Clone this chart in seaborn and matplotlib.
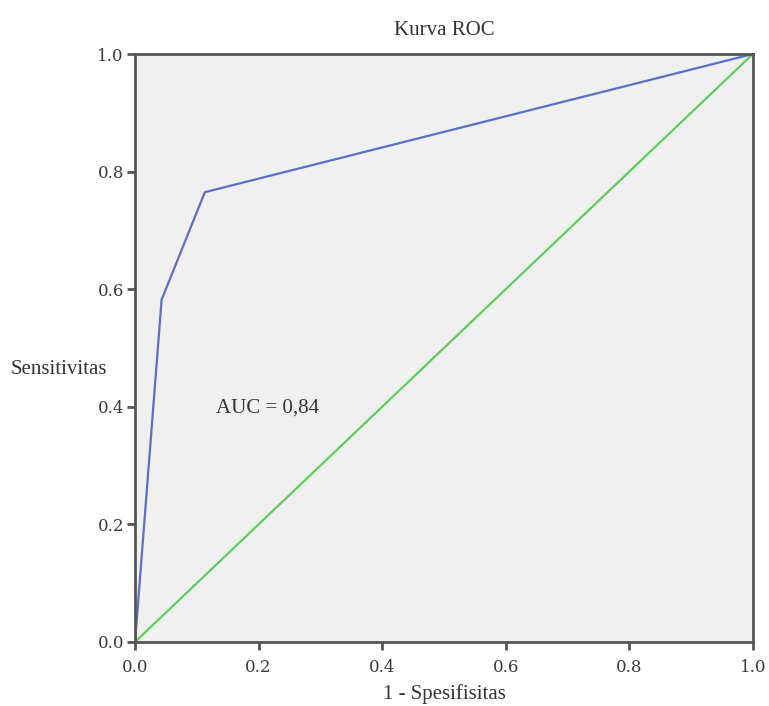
import numpy as np
import pandas as pd
import matplotlib
matplotlib.use("Agg")
import matplotlib.pyplot as plt
import seaborn as sns

# ROC curve points (1 - specificity, sensitivity)
fpr = [0.0, 0.043, 0.113, 1.0]
tpr = [0.0, 0.582, 0.765, 1.0]
# reference diagonal
ref_x = [0.0, 1.0]
ref_y = [0.0, 1.0]
auc_label = "AUC = 0,84"
ticks = [0.0, 0.2, 0.4, 0.6, 0.8, 1.0]

sns.set_style("ticks")
plt.rcParams['font.family'] = ['Liberation Serif', 'DejaVu Serif']

fig = plt.figure(figsize=(7.69, 7.06), dpi=100)
ax = fig.add_axes([0.1756, 0.0907, 0.8034, 0.8328])
ax.set_facecolor("#f0f0f0")

roc = pd.DataFrame({"fpr": fpr, "tpr": tpr})
diag = pd.DataFrame({"x": ref_x, "y": ref_y})
sns.lineplot(data=diag, x="x", y="y", color="#5fcc5f", linewidth=1.6, ax=ax, sort=False)
sns.lineplot(data=roc, x="fpr", y="tpr", color="#5a6fc8", linewidth=1.6, ax=ax, sort=False)

ax.set_xlim(0, 1)
ax.set_ylim(0, 1)
ax.set_xticks(ticks)
ax.set_yticks(ticks)
tick_font = dict(fontfamily="DejaVu Serif", fontsize=12, color="#3a3a3a")
ax.set_xticklabels([f"{t:.1f}" for t in ticks], **tick_font)
ax.set_yticklabels([f"{t:.1f}" for t in ticks], **tick_font)
ax.tick_params(axis="x", length=6, width=2, color="#555555", pad=6)
ax.tick_params(axis="y", length=6, width=2, color="#555555", pad=2)
for s in ax.spines.values():
    s.set_linewidth(2)
    s.set_color("#555555")

ax.set_xlabel("1 - Spesifisitas", fontsize=15, color="#333333")
ax.set_ylabel("Sensitivitas", fontsize=15, color="#333333", rotation=0, ha="left", va="center")
ax.yaxis.set_label_coords(-0.201, 0.463)
ax.xaxis.set_label_coords(0.5, -0.072)
ax.set_title("Kurva ROC", fontsize=15, color="#333333", pad=14)
ax.text(0.131, 0.398, auc_label, fontsize=15, color="#333333", va="center")

fig.savefig("out.png", dpi=100)
